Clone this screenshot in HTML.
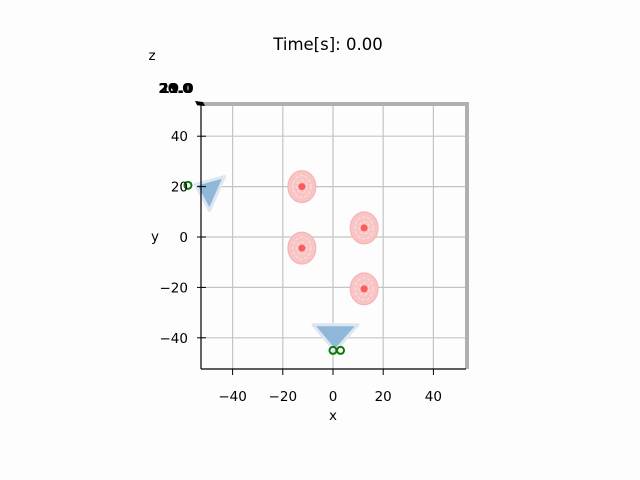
<!DOCTYPE html>
<html><head><meta charset="utf-8"><style>
html,body{margin:0;padding:0;background:#fdfdfd;}
svg{display:block;font-family:"DejaVu Sans","Liberation Sans",sans-serif;}
</style></head><body>
<svg id="chart" width="640" height="480" viewBox="0 0 640 480">
<rect width="640" height="480" fill="#fdfdfd"/>
<text x="328" y="50" font-size="16.5" text-anchor="middle">Time[s]: 0.00</text>
<g id="grid"></g>
<g id="marks"></g>
<g id="axes"></g>
<text x="152" y="60" font-size="13.5" text-anchor="middle">z</text>
<text x="155" y="241" font-size="13.5" text-anchor="middle">y</text>
<text x="333" y="420" font-size="13.5" text-anchor="middle">x</text>
<g font-size="13.5" font-weight="bold">
<text x="175" y="93" text-anchor="middle">20.0</text>
<text x="176" y="93" text-anchor="middle">21.0</text>
<text x="177" y="93" text-anchor="middle">19.0</text>
</g>
</svg>
<script>
const xTicks=[-40,-20,0,20,40];
const yTicks=[-40,-20,0,20,40];
const sphereX=[-12.4,12.4,-12.4,12.4];
const sphereY=[20,3.6,-4.4,-20.6];
const camX=[-50,0];
const camY=[20,-40];
const camDir=['left','down'];
const dotX=[-58,0,3];
const dotY=[20.5,-45,-45];
const X0=201,X1=466,Y0=103,Y1=369;
function sx(v){return 333+v*2.51;}
function sy(v){return 237-v*2.52;}
const NS='http://www.w3.org/2000/svg';
function mk(t,a,p){const e=document.createElementNS(NS,t);for(const k in a)e.setAttribute(k,a[k]);p.appendChild(e);return e;}
const grid=document.getElementById('grid'),marks=document.getElementById('marks'),axes=document.getElementById('axes');
xTicks.forEach(v=>{const l=mk('line',{x1:sx(v),x2:sx(v),y1:Y0,y2:Y1,stroke:'#c4c4c4','stroke-width':1.2},grid);
});
yTicks.forEach(v=>{const l=mk('line',{x1:X0,x2:X1,y1:sy(v),y2:sy(v),stroke:'#c4c4c4','stroke-width':1.2},grid);
});
sphereX.forEach((v,i)=>{const g=mk('g',{},marks);

const cx=sx(v),cy=sy(sphereY[i]);
mk('ellipse',{cx:cx,cy:cy,rx:14,ry:16,fill:'#f9c4c4',stroke:'#f6b0b0','stroke-width':1},g);
mk('ellipse',{cx:cx,cy:cy,rx:9,ry:11,fill:'none',stroke:'#fde4e4','stroke-width':1,'stroke-dasharray':'3 2'},g);
mk('ellipse',{cx:cx,cy:cy,rx:5,ry:6,fill:'none',stroke:'#fde4e4','stroke-width':1,'stroke-dasharray':'3 2'},g);
mk('circle',{cx:cx,cy:cy,r:3.5,fill:'#ff5a5a'},g);});
camX.forEach((v,i)=>{const cx=sx(v),cy=sy(camY[i]);let pts;
if(camDir[i]==='left')pts=[[cx-12,cy-2],[cx+17,cy-10],[cx+2,cy+24]];
else pts=[[cx-20,cy-13],[cx+25,cy-13],[cx+2,cy+13]];
const p=mk('polygon',{points:pts.map(q=>q.join(',')).join(' '),fill:'#8fb8d8',stroke:'#dde6f0','stroke-width':3,'stroke-linejoin':'round'},marks);
});
dotX.forEach((v,i)=>{const c=mk('circle',{cx:v===-58?188:sx(v),cy:sy(dotY[i]),r:3.5,fill:'none',stroke:'#0a7a0a','stroke-width':2},marks);
});
mk('rect',{x:197,y:102,width:272,height:4,fill:'#b0b0b0'},axes);
mk('rect',{x:465,y:102,width:4,height:267,fill:'#b0b0b0'},axes);
mk('line',{x1:X0,x2:X0,y1:Y0,y2:Y1,stroke:'#000','stroke-width':1.2},axes);
mk('line',{x1:X0,x2:466,y1:Y1,y2:Y1,stroke:'#000','stroke-width':1.2},axes);
mk('polygon',{points:'195,101 203,102 205,106 197,105',fill:'#000'},axes);
xTicks.forEach(v=>{mk('line',{x1:sx(v),x2:sx(v),y1:Y1,y2:Y1+6,stroke:'#000'},axes);
const t=mk('text',{x:sx(v),y:401,'font-size':13.5,'text-anchor':'middle'},axes);t.textContent=v<0?'\u2212'+(-v):v;
});
yTicks.forEach(v=>{mk('line',{x1:X0-4,x2:X0+5,y1:sy(v),y2:sy(v),stroke:'#000'},axes);
const t=mk('text',{x:188,y:sy(v)+5,'font-size':13.5,'text-anchor':'end'},axes);t.textContent=v<0?'\u2212'+(-v):v;
});
</script>
</body></html>
